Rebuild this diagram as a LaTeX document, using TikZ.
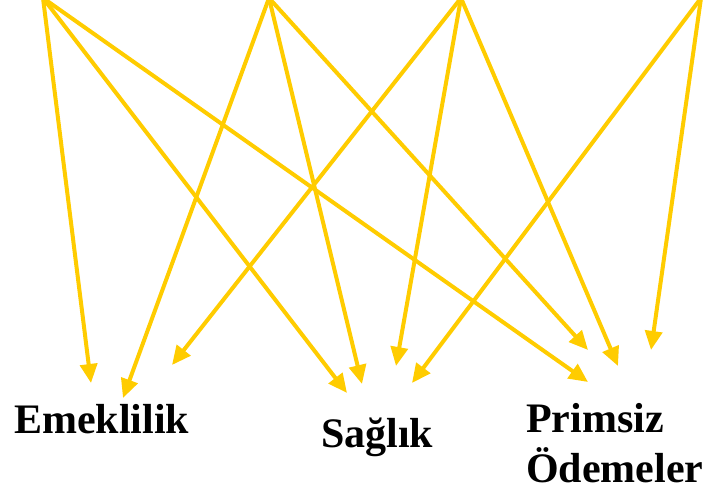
\documentclass[tikz,border=0pt]{standalone}
\usepackage{fontspec}
\setmainfont{Liberation Serif}
\usetikzlibrary{arrows.meta, positioning}
\definecolor{gold}{RGB}{255,204,0}

\begin{document}
\begin{tikzpicture}[>={Triangle[length=19pt, width=17pt]}, x=1pt, y=-1pt]
	\tikzstyle{branch} = [font=\bfseries\fontsize{42}{50}\selectfont, inner sep=0pt, anchor=base west, align=left]
	\tikzstyle{flow} = [gold, line width=4pt]

	\useasboundingbox (0,0) rectangle (708,490);

	% sources at the top edge
	\coordinate (s1) at (43,-2);
	\coordinate (s2) at (269,-2);
	\coordinate (s3) at (461,-2);
	\coordinate (s4) at (701,-2);

	% arrow ends above each branch
	\coordinate (e1) at (91,383);
	\coordinate (e2) at (123,398);
	\coordinate (e3) at (172,365);
	\coordinate (g1) at (347,393);
	\coordinate (g2) at (362,384);
	\coordinate (g3) at (396,366);
	\coordinate (g4) at (412,383);
	\coordinate (p1) at (588,382);
	\coordinate (p2) at (588,350);
	\coordinate (p3) at (618,366);
	\coordinate (p4) at (651,350);

	\node[branch] (emek) at (14,433) {Emeklilik};
	\node[branch] (saglik) at (321,447) {Sağlık};
	\node[branch] (prim) at (526,482) {Primsiz\\Ödemeler};

	\path[->, flow]
		(s1) edge (e1)
		(s1) edge (g1)
		(s1) edge (p1)

		(s2) edge (e2)
		(s2) edge (g2)
		(s2) edge (p2)

		(s3) edge (e3)
		(s3) edge (g3)
		(s3) edge (p3)

		(s4) edge (g4)
		(s4) edge (p4)
	;
\end{tikzpicture}
\end{document}
